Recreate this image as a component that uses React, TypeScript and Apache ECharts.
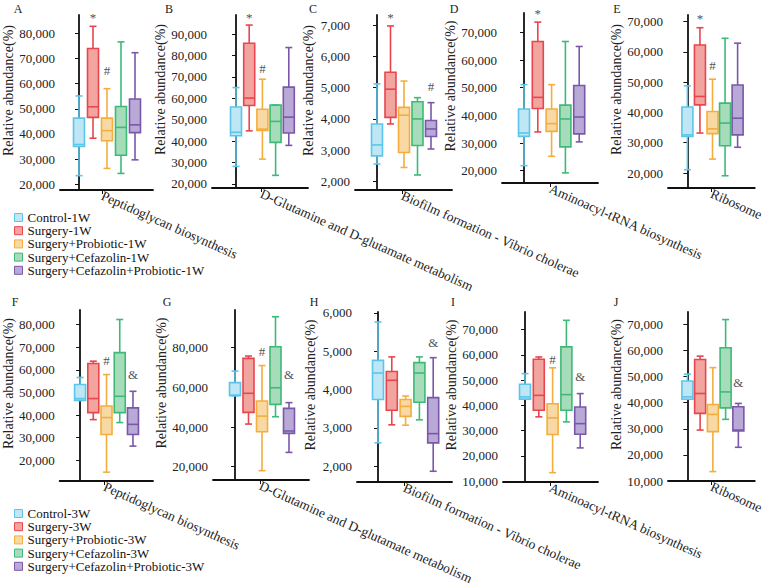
import React, { useEffect, useRef } from "react";
import * as echarts from "echarts";

const groups1W = ["Control-1W", "Surgery-1W", "Surgery+Probiotic-1W", "Surgery+Cefazolin-1W", "Surgery+Cefazolin+Probiotic-1W"];
const groups3W = ["Control-3W", "Surgery-3W", "Surgery+Probiotic-3W", "Surgery+Cefazolin-3W", "Surgery+Cefazolin+Probiotic-3W"];
const pathways = ["Peptidoglycan biosynthesis", "D-Glutamine and D-glutamate metabolism", "Biofilm formation - Vibrio cholerae", "Aminoacyl-tRNA biosynthesis", "Ribosome"];
const panelLetters = ["A", "B", "C", "D", "E", "F", "G", "H", "I", "J"];

// [min, Q1, median, Q3, max] for each group (Control, Surgery, +Probiotic, +Cefazolin, +Cefazolin+Probiotic)
const statsA = [[23400, 35000, 35800, 46300, 55100], [38300, 46600, 50800, 74000, 82800], [26300, 37300, 41300, 46300, 58000], [24300, 31500, 42600, 50900, 76600], [29700, 40500, 43600, 53900, 72300]];
const statsB = [[28200, 42500, 44100, 55900, 65000], [44800, 56600, 60100, 85700, 94200], [31600, 45000, 45600, 54900, 68900], [24000, 39400, 49200, 56800, 56800], [38000, 43800, 51200, 65200, 83700]];
const statsC = [[2560, 2820, 3170, 3840, 5120], [3840, 4050, 4950, 5490, 6970], [2450, 2930, 4120, 4370, 5210], [2210, 3150, 4000, 4550, 4680], [3040, 3440, 3680, 3950, 4520]];
const statsD = [[21800, 32400, 33600, 42300, 51100], [34000, 42500, 46500, 66700, 73700], [25200, 34200, 37000, 42300, 51100], [19200, 28600, 38700, 43700, 66700], [30400, 33300, 39400, 50800, 64900]];
const statsE = [[21100, 32100, 32600, 41800, 48800], [33200, 42500, 45300, 62300, 68000], [24600, 33000, 34600, 40300, 51000], [19100, 29000, 36500, 43100, 64500], [28500, 32600, 38100, 49100, 62900]];
const statsF = [[46500, 46500, 47300, 53500, 56600], [38000, 41100, 47300, 62800, 63800], [14800, 31400, 38900, 44000, 57900], [36700, 41100, 48300, 67600, 82200], [26300, 31400, 35900, 43200, 50500]];
const statsG = [[55800, 55800, 56100, 62400, 68200], [41500, 47400, 57000, 74600, 75800], [18000, 37600, 45500, 53100, 71000], [45200, 51400, 59800, 80500, 95600], [27200, 36800, 38000, 49400, 52300]];
const statsH = [[2610, 3740, 4430, 4760, 5760], [3080, 3460, 4240, 4470, 4850], [3070, 3300, 3560, 3740, 3830], [3210, 3670, 4430, 4700, 4850], [1870, 2610, 2850, 3790, 4830]];
const statsI = [[42500, 42500, 43400, 48400, 52600], [35500, 38100, 44000, 58300, 59200], [13400, 28500, 35100, 40700, 54900], [33500, 38100, 44300, 63200, 73700], [23200, 28600, 32800, 39400, 44700]];
const statsJ = [[41300, 41300, 42200, 48300, 50900], [29500, 35900, 43500, 56500, 57800], [13600, 28900, 35500, 39300, 53400], [33600, 38000, 44100, 61000, 71800], [22900, 29200, 29500, 38400, 39700]];

// y-axis tick labels
const ticksA = [20000, 30000, 40000, 50000, 60000, 70000, 80000];
const ticksB = [20000, 30000, 40000, 50000, 60000, 70000, 80000, 90000];
const ticksC = [2000, 3000, 4000, 5000, 6000, 7000];
const ticksD = [20000, 30000, 40000, 50000, 60000, 70000];
const ticksE = [20000, 30000, 40000, 50000, 60000, 70000];
const ticksF = [20000, 30000, 40000, 50000, 60000, 70000, 80000];
const ticksG = [20000, 40000, 60000, 80000];
const ticksH = [2000, 3000, 4000, 5000, 6000];
const ticksI = [10000, 20000, 30000, 40000, 50000, 60000, 70000];
const ticksJ = [10000, 20000, 30000, 40000, 50000, 60000, 70000];

// significance marks: [group index, y value, symbol]
const marksA: [number, number, string][] = [[1, 86500, "*"], [2, 65200, "#"]];
const marksB: [number, number, string][] = [[1, 97900, "*"], [2, 73900, "#"]];
const marksC: [number, number, string][] = [[1, 7250, "*"], [4, 5050, "#"]];
const marksD: [number, number, string][] = [[1, 76900, "*"]];
const marksE: [number, number, string][] = [[1, 71000, "*"], [2, 55500, "#"]];
const marksF: [number, number, string][] = [[2, 64000, "#"], [4, 57900, "&"]];
const marksG: [number, number, string][] = [[2, 78000, "#"], [4, 66500, "&"]];
const marksH: [number, number, string][] = [[4, 5220, "&"]];
const marksI: [number, number, string][] = [[2, 58300, "#"], [4, 51300, "&"]];
const marksJ: [number, number, string][] = [[4, 47600, "&"]];

const STROKES = ["#5BC6EA", "#E8454E", "#F3AE3F", "#3DBA78", "#7A57A8"];
const FILLS = ["#BEE6F4", "#F2A59E", "#F8D9A4", "#A7DCBB", "#B8A9D7"];
const FONT = "Liberation Serif";

const panelStats = [statsA, statsB, statsC, statsD, statsE, statsF, statsG, statsH, statsI, statsJ];
const panelTicks = [ticksA, ticksB, ticksC, ticksD, ticksE, ticksF, ticksG, ticksH, ticksI, ticksJ];
const panelMarks = [marksA, marksB, marksC, marksD, marksE, marksF, marksG, marksH, marksI, marksJ];
const panelRange = [[17700, 87300], [18100, 98900], [1730, 7320], [15540, 77000], [15050, 72200], [10900, 86400], [13300, 99000], [1590, 6020], [9700, 77000], [10000, 74700]];

// layout (pixels): left, right, top, bottom, first box center, box step, x tick position, letter x, letter y
const LAYOUT = [
  [60, 153, 15, 190, 79, 14, 102, 18, 9],
  [212, 308, 15, 188, 236, 13.2, 261, 169, 9],
  [355, 452, 15, 190, 377, 13.5, 402, 313, 9],
  [502, 598, 13, 183, 524, 13.8, 550, 454, 9],
  [668, 762, 15, 188, 689, 13.6, 715, 617, 9],
  [57, 153, 310, 481, 78, 13.6, 103, 15, 302],
  [213, 309, 310, 480, 235, 13.5, 260, 167, 302],
  [357, 452, 312, 482, 378, 13.8, 404, 314, 302],
  [503, 598, 312, 482, 525, 13.8, 550, 453, 302],
  [668, 762, 312, 481, 689, 13.8, 715, 616, 302],
];

function boxRenderer(stroke: string, fill: string) {
  return (params: any, api: any) => {
    const x = api.value(0);
    const pMin = api.coord([x, api.value(1)]);
    const yQ1 = api.coord([x, api.value(2)])[1];
    const yMed = api.coord([x, api.value(3)])[1];
    const yQ3 = api.coord([x, api.value(4)])[1];
    const yMax = api.coord([x, api.value(5)])[1];
    const cx = pMin[0];
    const yMin = pMin[1];
    const hw = 5.5;
    const cw = 3.5;
    const ls = { stroke, lineWidth: 1.6, fill: "none" };
    return {
      type: "group",
      children: [
        { type: "line", shape: { x1: cx, y1: yMax, x2: cx, y2: yQ3 }, style: ls },
        { type: "line", shape: { x1: cx, y1: yQ1, x2: cx, y2: yMin }, style: ls },
        { type: "line", shape: { x1: cx - cw, y1: yMax, x2: cx + cw, y2: yMax }, style: ls },
        { type: "line", shape: { x1: cx - cw, y1: yMin, x2: cx + cw, y2: yMin }, style: ls },
        { type: "rect", shape: { x: cx - hw, y: yQ3, width: 2 * hw, height: yQ1 - yQ3 }, style: { fill, stroke, lineWidth: 1.6 } },
        { type: "line", shape: { x1: cx - hw, y1: yMed, x2: cx + hw, y2: yMed }, style: ls },
      ],
    };
  };
}

function buildOption() {
  const grid: any[] = [];
  const xAxis: any[] = [];
  const yAxis: any[] = [];
  const series: any[] = [];
  const graphic: any[] = [];

  LAYOUT.forEach((L, p) => {
    const [left, right, top, bottom, c0, step, tick, lx, ly] = L;
    const groups = p < 5 ? groups1W : groups3W;
    const pathway = pathways[p % 5];
    const tickVal = (tick - c0) / step;
    grid.push({ left, top, width: right - left, height: bottom - top });
    xAxis.push({
      gridIndex: p,
      type: "value",
      min: (left - c0) / step,
      max: (right - c0) / step,
      axisLine: { show: true, lineStyle: { color: "#111", width: 1.8 } },
      axisTick: { show: true, customValues: [tickVal], length: 4, lineStyle: { color: "#111", width: 1 } },
      axisLabel: {
        show: true,
        customValues: [tickVal],
        formatter: () => pathway,
        rotate: -24,
        margin: 5,
        fontSize: 13.5,
        fontFamily: FONT,
        color: "#222",
      },
      splitLine: { show: false },
    });
    const ticks = panelTicks[p];
    yAxis.push({
      gridIndex: p,
      type: "value",
      min: panelRange[p][0],
      max: panelRange[p][1],
      name: "Relative abundance(%)",
      nameLocation: "middle",
      nameGap: 40,
      nameTextStyle: { fontSize: 14, fontFamily: FONT, color: "#222", padding: [0, 0, 0, 24] },
      axisLine: { show: true, lineStyle: { color: "#111", width: 1.8 } },
      axisTick: { show: true, customValues: ticks, length: 4, lineStyle: { color: "#111", width: 1 } },
      axisLabel: {
        show: true,
        customValues: ticks,
        formatter: (v: number) => Math.round(v).toLocaleString("en-US"),
        margin: 5,
        fontSize: 13,
        fontFamily: FONT,
        color: "#222",
      },
      splitLine: { show: false },
    });
    panelStats[p].forEach((s, g) => {
      series.push({
        type: "custom",
        name: groups[g],
        xAxisIndex: p,
        yAxisIndex: p,
        itemStyle: { color: STROKES[g] },
        encode: { x: 0, y: [1, 2, 3, 4, 5] },
        data: [[g, ...s]],
        renderItem: boxRenderer(STROKES[g], FILLS[g]),
        silent: true,
      });
    });
    const marks = panelMarks[p];
    series.push({
      type: "custom",
      name: "marks-" + p,
      xAxisIndex: p,
      yAxisIndex: p,
      clip: false,
      silent: true,
      encode: { x: 0, y: 1 },
      data: marks.map((m) => [m[0], m[1]]),
      renderItem: (params: any, api: any) => {
        const pt = api.coord([api.value(0), api.value(1)]);
        return {
          type: "text",
          x: pt[0],
          y: pt[1],
          style: {
            text: marks[params.dataIndex][2],
            fontSize: 13,
            fontFamily: FONT,
            fill: "#555",
            align: "center",
            verticalAlign: "middle",
          },
        };
      },
    });
    graphic.push({
      type: "text",
      x: lx,
      y: ly,
      style: { text: panelLetters[p], fontSize: 12, fontFamily: FONT, fill: "#222", align: "center", verticalAlign: "middle" },
    });
  });

  const legendBase = {
    orient: "vertical",
    left: 9,
    itemWidth: 8,
    itemHeight: 8,
    itemGap: 0.2,
    icon: "rect",
    selectedMode: false,
    textStyle: { fontSize: 13, fontFamily: FONT, color: "#111", lineHeight: 13 },
  };

  return {
    animation: false,
    textStyle: { fontFamily: FONT },
    grid,
    xAxis,
    yAxis,
    series,
    graphic,
    legend: [
      {
        ...legendBase,
        top: 206,
        data: groups1W.map((n, i) => ({ name: n, itemStyle: { color: FILLS[i], borderColor: STROKES[i], borderWidth: 1 } })),
      },
      {
        ...legendBase,
        top: 502,
        data: groups3W.map((n, i) => ({ name: n, itemStyle: { color: FILLS[i], borderColor: STROKES[i], borderWidth: 1 } })),
      },
    ],
  };
}

export default function App() {
  const ref = useRef<HTMLDivElement>(null);
  useEffect(() => {
    if (!ref.current) return;
    const chart = echarts.init(ref.current, undefined, { renderer: "svg", width: 767, height: 588 });
    chart.setOption(buildOption() as any);
    return () => chart.dispose();
  }, []);
  return (
    <div
      ref={ref}
      style={{ position: "fixed", left: 0, top: 0, width: 767, height: 588, background: "#fff" }}
    />
  );
}
